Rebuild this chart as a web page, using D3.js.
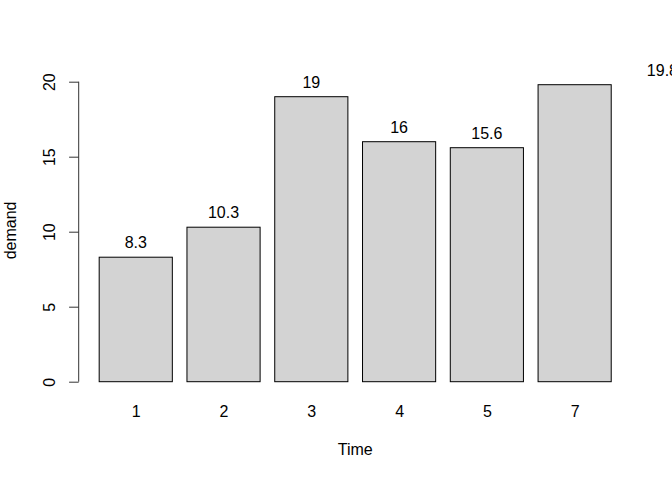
<!DOCTYPE html>
<html><head><meta charset="utf-8">
<script src="https://cdn.jsdelivr.net/npm/d3@7"></script>
<style>
html,body{margin:0;padding:0;background:#fff;}
svg text{font-family:"Liberation Sans",Arial,Helvetica,sans-serif;font-size:16px;fill:#000;}
</style></head>
<body>
<script>
// Data (BOD)
const times = ["1","2","3","4","5","7"];
const demand = [8.3, 10.3, 19, 16, 15.6, 19.8];
const labelSlots = [0, 1, 2, 3, 4, 6]; // slot where each value label was placed
const yTicks = [0, 5, 10, 15, 20];
const xTitle = "Time", yTitle = "demand";

const W = 672, H = 480;
const barW = 1, space = 0.2;
const svg = d3.select("body").append("svg").attr("width", W).attr("height", H);

const x = d3.scaleLinear().domain([-0.08, 7.48]).range([78.7, 631.7]);
const y = d3.scaleLinear().domain([0, 20]).range([381.7, 81.7]);
const left = i => space + i * (barW + space);
const center = i => left(i) + barW / 2;

// bars
svg.append("g").selectAll("rect").data(demand).join("rect")
  .attr("x", (d, i) => x(left(i)))
  .attr("width", (d, i) => x(left(i) + barW) - x(left(i)))
  .attr("y", d => y(d))
  .attr("height", d => y(0) - y(d))
  .attr("fill", "#d3d3d3").attr("stroke", "#000").attr("stroke-width", 1);

// value labels
svg.append("g").selectAll("text").data(demand).join("text")
  .attr("x", (d, i) => x(center(labelSlots[i])))
  .attr("y", d => y(d) - 9)
  .attr("text-anchor", "middle")
  .text(d => String(d));

// y axis
const ya = svg.append("g").attr("transform", "translate(78.7,0)")
  .call(d3.axisLeft(y).tickValues(yTicks).tickSize(9.6).tickFormat(d3.format("d")));
ya.selectAll("path.domain").attr("stroke", "#333").attr("d", `M0,${y(0)}V${y(20)}`);
ya.selectAll(".tick line").attr("stroke", "#333");
ya.selectAll(".tick text").attr("x", null).attr("dy", null)
  .attr("transform", "translate(-23.2,0) rotate(-90)")
  .attr("text-anchor", "middle")
  .style("font-size", "16px").style("font-family", "Liberation Sans, Arial, sans-serif").attr("fill", "#000");

// x axis (names only)
const xa = svg.append("g").attr("transform", "translate(0,0)")
  .call(d3.axisBottom(x).tickValues(times.map((t, i) => center(i))).tickSize(0)
    .tickFormat((d, i) => times[i]));
xa.select("path.domain").remove();
xa.selectAll(".tick text").attr("y", 416.7).attr("dy", null)
  .style("font-size", "16px").style("font-family", "Liberation Sans, Arial, sans-serif").attr("fill", "#000");

// axis titles
svg.append("text").attr("x", (78.7 + 631.7) / 2).attr("y", 455)
  .attr("text-anchor", "middle").text(xTitle);
svg.append("text").attr("transform", "translate(16,230.4) rotate(-90)")
  .attr("text-anchor", "middle").text(yTitle);
</script>
</body></html>
